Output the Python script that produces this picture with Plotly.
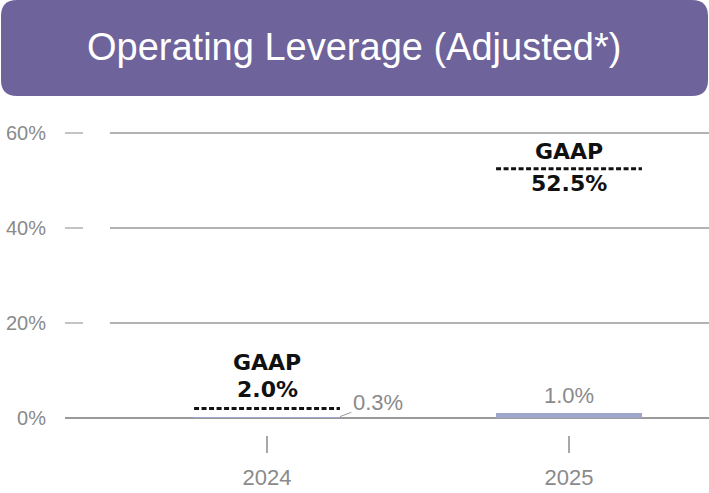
import plotly.graph_objects as go

# ---- data ----
years = ["2024", "2025"]
adjusted = [0.3, 1.0]          # adjusted operating leverage, %
gaap = [2.0, 52.5]             # GAAP operating leverage, %
y_ticks = [0, 20, 40, 60]
y_tick_labels = ["0%", "20%", "40%", "60%"]
title_text = "Operating Leverage (Adjusted*)"

# ---- style / layout constants ----
W, H = 709, 493
L, R, T, B = 65, 709, 110, 435     # plot area in pixels
BAR_W = 0.483
BAR_COLOR = "#a0a5cb"
GRAY_TXT = "#8a8a8a"
GRID = "#9a9a9a"
PURPLE = "#6e639b"

xs = list(range(len(years)))

def xp(px):
    return (px - L) / (R - L)

def yp(py):
    return (B - py) / (B - T)

fig = go.Figure()
fig.add_trace(go.Bar(
    x=xs, y=adjusted, width=BAR_W, marker=dict(color=BAR_COLOR, line=dict(width=0)),
    hoverinfo="skip", showlegend=False,
))

shapes = []
# banner with rounded corners
r = 16
bx0, bx1, by0, by1 = 1, 708, 0, 96
path = (
    f"M {xp(bx0+r)},{yp(by0)} L {xp(bx1-r)},{yp(by0)} "
    f"Q {xp(bx1)},{yp(by0)} {xp(bx1)},{yp(by0+r)} "
    f"L {xp(bx1)},{yp(by1-r)} Q {xp(bx1)},{yp(by1)} {xp(bx1-r)},{yp(by1)} "
    f"L {xp(bx0+r)},{yp(by1)} Q {xp(bx0)},{yp(by1)} {xp(bx0)},{yp(by1-r)} "
    f"L {xp(bx0)},{yp(by0+r)} Q {xp(bx0)},{yp(by0)} {xp(bx0+r)},{yp(by0)} Z"
)
shapes.append(dict(type="path", path=path, xref="paper", yref="paper",
                   fillcolor=PURPLE, line=dict(width=0), layer="below"))

# gridlines and left tick dashes
for v in y_ticks[1:]:
    shapes.append(dict(type="line", xref="paper", yref="y", x0=xp(110), x1=1, y0=v, y1=v,
                       line=dict(color=GRID, width=1.5), layer="below"))
    shapes.append(dict(type="line", xref="paper", yref="y", x0=0, x1=xp(83), y0=v, y1=v,
                       line=dict(color="#b0b0b0", width=1.5), layer="below"))

# GAAP dotted lines
for i, g in zip(xs, gaap):
    shapes.append(dict(type="line", xref="x", yref="y", x0=i - BAR_W / 2, x1=i + BAR_W / 2,
                       y0=g, y1=g, line=dict(color="#111111", width=3, dash="5px,2.5px")))

annotations = [
    dict(text=title_text, xref="paper", yref="paper", x=xp(354), y=yp(47),
         xanchor="center", yanchor="middle", showarrow=False,
         font=dict(family="Liberation Sans, Arial, sans-serif", size=38, color="white")),
]

bold_font = dict(family="DejaVu Sans, sans-serif", size=22, color="#111111", weight="bold")
# 2024 GAAP: both labels above the line
annotations.append(dict(text="GAAP", x=xs[0], y=gaap[0], xref="x", yref="y", showarrow=False,
                        yanchor="middle", yshift=46, font=bold_font))
annotations.append(dict(text=f"{gaap[0]:.1f}%", x=xs[0], y=gaap[0], xref="x", yref="y",
                        showarrow=False, yanchor="middle", yshift=19.5, font=bold_font))
# 2025 GAAP: label above, value below
annotations.append(dict(text="GAAP", x=xs[1], y=gaap[1], xref="x", yref="y", showarrow=False,
                        yanchor="middle", yshift=17.5, font=bold_font))
annotations.append(dict(text=f"{gaap[1]:.1f}%", x=xs[1], y=gaap[1], xref="x", yref="y",
                        showarrow=False, yanchor="middle", yshift=-14.5, font=bold_font))

gray_font = dict(family="Liberation Sans, Arial, sans-serif", size=22, color=GRAY_TXT)
# adjusted value labels
annotations.append(dict(text=f"{adjusted[0]:.1f}%", x=xs[0] + BAR_W / 2, y=adjusted[0],
                        xref="x", yref="y", showarrow=True, arrowhead=0, arrowwidth=1,
                        arrowcolor="#9a9a9a", ax=38, ay=-14, font=gray_font))
annotations.append(dict(text=f"{adjusted[1]:.1f}%", x=xs[1], y=adjusted[1], xref="x", yref="y",
                        showarrow=False, yanchor="bottom", yshift=3, font=gray_font))

px_per_pct = (418 - 133) / 60.0
y_min = -(B - 418) / px_per_pct
y_max = (418 - T) / px_per_pct
x_min = -(267 - L) / 302.0
x_max = 1 + (R - 569) / 302.0

fig.update_layout(
    width=W, height=H,
    margin=dict(l=L, r=W - R, t=T, b=H - B, pad=0),
    paper_bgcolor="white", plot_bgcolor="white",
    shapes=shapes, annotations=annotations,
    bargap=0,
    xaxis=dict(range=[x_min, x_max], tickvals=xs, ticktext=years, showgrid=False,
               zeroline=False, showline=False, ticks="outside", ticklen=17, tickwidth=1.5,
               tickcolor="#a8a8a8", ticklabelstandoff=6, fixedrange=True,
               tickfont=dict(family="Liberation Sans, Arial, sans-serif", size=22, color=GRAY_TXT)),
    yaxis=dict(range=[y_min, y_max], tickvals=y_ticks, ticktext=y_tick_labels, showgrid=False,
               zeroline=True, zerolinecolor=GRID, zerolinewidth=1.5, showline=False,
               ticks="", ticklabelstandoff=18, fixedrange=True,
               tickfont=dict(family="Liberation Sans, Arial, sans-serif", size=20, color=GRAY_TXT)),
)

fig.write_html(
    "out.html",
    config={"displayModeBar": False, "staticPlot": True},
    post_script="document.body.style.margin='0';document.body.style.overflow='hidden';",
)
